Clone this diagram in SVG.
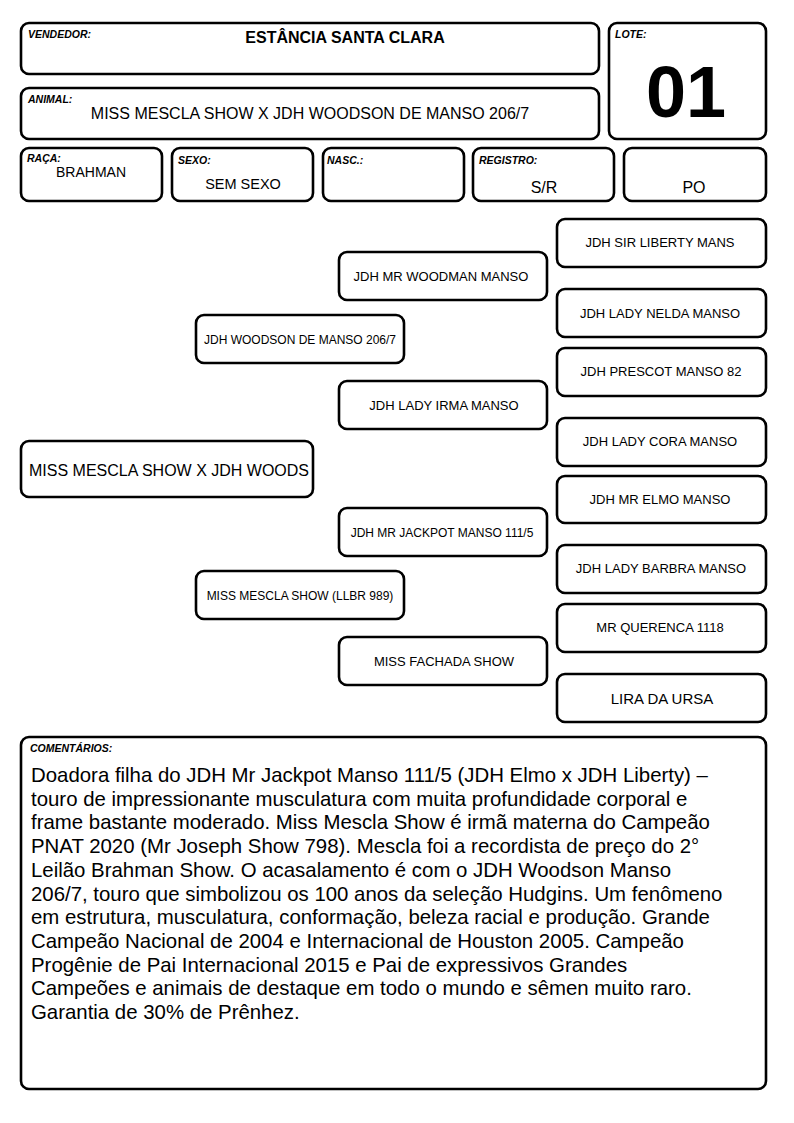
<svg xmlns="http://www.w3.org/2000/svg" width="794" height="1123" viewBox="0 0 794 1123">
<style>
.box{fill:#fff;stroke:#000;stroke-width:2.6}
.lbl{font-family:"Liberation Sans",Arial,sans-serif;font-size:10.5px;font-weight:bold;font-style:italic;fill:#000}
.t{font-family:"Liberation Sans",Arial,sans-serif;fill:#000;text-anchor:middle}
.c{font-family:"Liberation Sans",Arial,sans-serif;font-size:20.4px;fill:#000}
</style>
<rect width="794" height="1123" fill="#fff"/>
<g id="vendedor"><rect class="box" x="21" y="23" width="578" height="51" rx="8"/><text class="lbl" x="28" y="38">VENDEDOR:</text><text class="t" x="345" y="43" font-size="16" font-weight="bold">ESTÂNCIA SANTA CLARA</text></g>
<g id="animal"><rect class="box" x="21" y="88" width="578" height="51" rx="8"/><text class="lbl" x="28" y="103">ANIMAL:</text><text class="t" x="310" y="119" font-size="16">MISS MESCLA SHOW X JDH WOODSON DE MANSO 206/7</text></g>
<g id="lote"><rect class="box" x="609" y="23" width="157" height="116" rx="8"/><text class="lbl" x="615" y="38">LOTE:</text><text class="t" x="686" y="117" font-size="72" font-weight="bold">01</text></g>
<g id="raca"><rect class="box" x="21" y="148" width="141" height="53" rx="8"/><text class="lbl" x="27" y="162">RAÇA:</text><text class="t" x="91" y="177" font-size="14">BRAHMAN</text></g>
<g id="sexo"><rect class="box" x="172" y="148" width="141" height="53" rx="8"/><text class="lbl" x="178" y="164">SEXO:</text><text class="t" x="243" y="189" font-size="14.5">SEM SEXO</text></g>
<g id="nasc"><rect class="box" x="323" y="148" width="141" height="53" rx="8"/><text class="lbl" x="327" y="164">NASC.:</text></g>
<g id="registro"><rect class="box" x="473" y="148" width="141" height="53" rx="8"/><text class="lbl" x="479" y="164">REGISTRO:</text><text class="t" x="544" y="193" font-size="16">S/R</text></g>
<g id="po"><rect class="box" x="624" y="148" width="142" height="53" rx="8"/><text class="t" x="694" y="193" font-size="16">PO</text></g>

<g id="connectors"></g>

<g id="n-animal"><rect class="box" x="21" y="441" width="292" height="56" rx="8"/><text class="t" x="169" y="476" font-size="16">MISS MESCLA SHOW X JDH WOODS</text></g>
<g id="n-sire"><rect class="box" x="196" y="315" width="208" height="48" rx="8"/><text class="t" x="300" y="344" font-size="12">JDH WOODSON DE MANSO 206/7</text></g>
<g id="n-dam"><rect class="box" x="196" y="571" width="208" height="48" rx="8"/><text class="t" x="300" y="600" font-size="12">MISS MESCLA SHOW (LLBR 989)</text></g>
<g id="n-ss"><rect class="box" x="339" y="252" width="208" height="48" rx="8"/><text class="t" x="441" y="281" font-size="13">JDH MR WOODMAN MANSO</text></g>
<g id="n-sd"><rect class="box" x="339" y="381" width="208" height="48" rx="8"/><text class="t" x="444" y="410" font-size="13">JDH LADY IRMA MANSO</text></g>
<g id="n-ds"><rect class="box" x="339" y="508" width="208" height="48" rx="8"/><text class="t" x="442" y="537" font-size="12">JDH MR JACKPOT MANSO 111/5</text></g>
<g id="n-dd"><rect class="box" x="339" y="637" width="208" height="48" rx="8"/><text class="t" x="444" y="666" font-size="13">MISS FACHADA SHOW</text></g>
<g id="n-sss"><rect class="box" x="557" y="219" width="209" height="48" rx="8"/><text class="t" x="660" y="247" font-size="13">JDH SIR LIBERTY MANS</text></g>
<g id="n-ssd"><rect class="box" x="557" y="289" width="209" height="48" rx="8"/><text class="t" x="660" y="318" font-size="13">JDH LADY NELDA MANSO</text></g>
<g id="n-sds"><rect class="box" x="557" y="348" width="209" height="48" rx="8"/><text class="t" x="661" y="376" font-size="13">JDH PRESCOT MANSO 82</text></g>
<g id="n-sdd"><rect class="box" x="557" y="418" width="209" height="48" rx="8"/><text class="t" x="660" y="446" font-size="13">JDH LADY CORA MANSO</text></g>
<g id="n-dss"><rect class="box" x="557" y="476" width="209" height="47" rx="8"/><text class="t" x="660" y="504" font-size="13">JDH MR ELMO MANSO</text></g>
<g id="n-dsd"><rect class="box" x="557" y="545" width="209" height="48" rx="8"/><text class="t" x="661" y="573" font-size="13">JDH LADY BARBRA MANSO</text></g>
<g id="n-dds"><rect class="box" x="557" y="604" width="209" height="48" rx="8"/><text class="t" x="660" y="632" font-size="13">MR QUERENCA 1118</text></g>
<g id="n-ddd"><rect class="box" x="557" y="674" width="209" height="48" rx="8"/><text class="t" x="662" y="704" font-size="15">LIRA DA URSA</text></g>

<g id="comentarios"><rect class="box" x="21" y="737" width="745" height="352" rx="8"/><text class="lbl" x="30" y="752">COMENTÁRIOS:</text>
<text class="c">
<tspan x="31" y="782">Doadora filha do JDH Mr Jackpot Manso 111/5 (JDH Elmo x JDH Liberty) –</tspan>
<tspan x="31" y="805.7">touro de impressionante musculatura com muita profundidade corporal e</tspan>
<tspan x="31" y="829.4">frame bastante moderado. Miss Mescla Show é irmã materna do Campeão</tspan>
<tspan x="31" y="853.1">PNAT 2020 (Mr Joseph Show 798). Mescla foi a recordista de preço do 2°</tspan>
<tspan x="31" y="876.8">Leilão Brahman Show. O acasalamento é com o JDH Woodson Manso</tspan>
<tspan x="31" y="900.5">206/7, touro que simbolizou os 100 anos da seleção Hudgins. Um fenômeno</tspan>
<tspan x="31" y="924.2">em estrutura, musculatura, conformação, beleza racial e produção. Grande</tspan>
<tspan x="31" y="947.9">Campeão Nacional de 2004 e Internacional de Houston 2005. Campeão</tspan>
<tspan x="31" y="971.6">Progênie de Pai Internacional 2015 e Pai de expressivos Grandes</tspan>
<tspan x="31" y="995.3">Campeões e animais de destaque em todo o mundo e sêmen muito raro.</tspan>
<tspan x="31" y="1019">Garantia de 30% de Prênhez.</tspan>
</text></g>
</svg>
